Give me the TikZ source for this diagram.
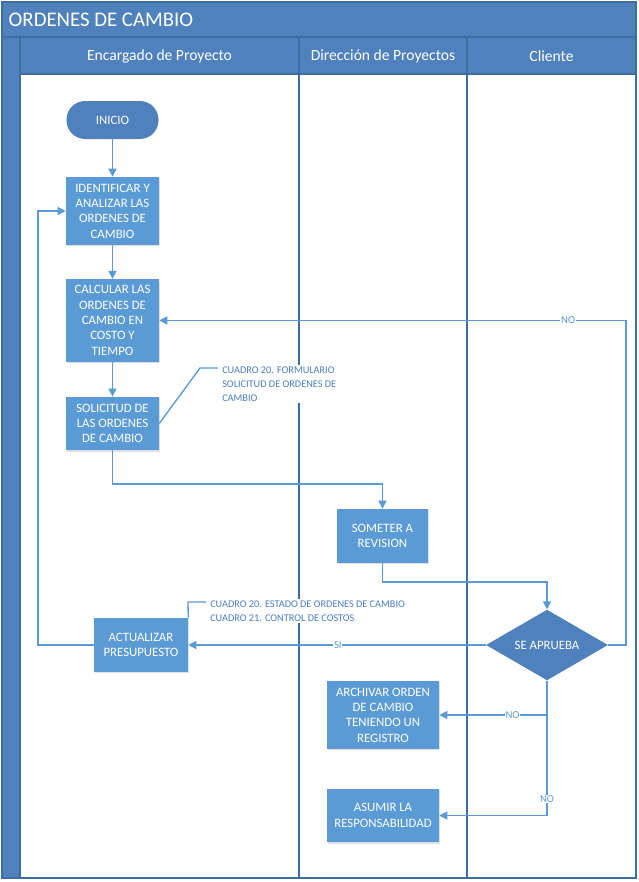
\documentclass[tikz,border=0pt]{standalone}
\usepackage{fontspec}
\setmainfont{Carlito}
\usetikzlibrary{arrows.meta,shapes.geometric,shadows}
\definecolor{hdr}{HTML}{4F81BD}
\definecolor{boxc}{HTML}{5B9BD5}
\definecolor{lanec}{HTML}{3C6E9F}
\definecolor{conn}{HTML}{5B9BD5}
\definecolor{anno}{HTML}{4A7FC0}
\begin{document}
\begin{tikzpicture}[x=0.75pt,y=-0.75pt,
  proc/.style={draw=none,fill=boxc,text=white,align=center,font=\fontsize{9.6}{11.5}\selectfont,inner sep=1pt,
     drop shadow={opacity=0.25,shadow xshift=1pt,shadow yshift=-1pt}},
  term/.style={fill=hdr,text=white,rounded corners=14pt,font=\fontsize{9.6}{11.5}\selectfont,minimum width=69pt,minimum height=28.5pt},
  decis/.style={diamond,fill=hdr,text=white,font=\fontsize{9.6}{11.5}\selectfont,minimum width=91.5pt,minimum height=53pt,inner sep=0pt,aspect=1.7},
  conn/.style={draw=conn,line width=1pt,-{Triangle[length=6pt,width=6pt]}},
  plain/.style={draw=conn,line width=1pt},
  lbl/.style={fill=white,text=conn,font=\fontsize{8}{9}\selectfont,inner sep=0.5pt},
  annot/.style={fill=white,text=anno,font=\fontsize{7.7}{10.5}\selectfont,align=left,inner sep=1.5pt},
  lanehd/.style={text=white,font=\fontsize{11.7}{13}\selectfont}]
\useasboundingbox (0,0) rectangle (639,882);
% frame
\fill[white] (2,2) rectangle (636,878);
\fill[hdr] (2,2) rectangle (636,37);
\fill[hdr] (2,37) rectangle (20,878);
\fill[hdr] (20,37) rectangle (636,74);
\draw[lanec,line width=0.8pt] (2,37) -- (636,37);
\draw[lanec,line width=0.8pt] (20,37) -- (20,878);
\draw[lanec,line width=0.8pt] (20,74) -- (636,74);
\draw[lanec,line width=1pt] (299,37) -- (299,878);
\draw[lanec,line width=1pt] (467,37) -- (467,878);
\draw[lanec,line width=0.8pt] (2,2) rectangle (636,878);
\node[text=white,anchor=west,font=\fontsize{15.6}{18}\selectfont] (title) at (4,20) {ORDENES DE CAMBIO};
\node[lanehd] (h1) at (159.5,56) {Encargado de Proyecto};
\node[lanehd] (h2) at (383,56) {Dirección de Proyectos};
\node[lanehd] (h3) at (551.5,56) {Cliente};
% nodes
\node[term] (ini) at (112.5,120) {INICIO};
\node[proc,minimum width=69.75pt,minimum height=51pt] (ident) at (112.5,211) {IDENTIFICAR Y\\ANALIZAR LAS\\ORDENES DE\\CAMBIO};
\node[proc,minimum width=69.75pt,minimum height=62pt] (calc) at (112.5,320.5) {CALCULAR LAS\\ORDENES DE\\CAMBIO EN\\COSTO Y\\TIEMPO};
\node[proc,minimum width=69.75pt,minimum height=40pt] (sol) at (112.5,423.5) {SOLICITUD DE\\LAS ORDENES\\DE CAMBIO};
\node[proc,minimum width=68pt,minimum height=40.5pt] (som) at (382.5,536) {SOMETER A\\REVISION};
\node[decis] (dia) at (547,645) {SE APRUEBA};
\node[proc,minimum width=70.5pt,minimum height=40.5pt] (act) at (141,645) {ACTUALIZAR\\PRESUPUESTO};
\node[proc,minimum width=84pt,minimum height=51pt] (arch) at (383,715) {ARCHIVAR ORDEN\\DE CAMBIO\\TENIENDO UN\\REGISTRO};
\node[proc,minimum width=84pt,minimum height=40pt] (asum) at (383,815.5) {ASUMIR LA\\RESPONSABILIDAD};
% annotations
\node[annot,anchor=west] (n1) at (220,384) {CUADRO 20. FORMULARIO\\SOLICITUD DE ORDENES DE\\CAMBIO};
\node[annot,anchor=west] (n2) at (208,611) {CUADRO 20. ESTADO DE ORDENES DE CAMBIO\\CUADRO 21. CONTROL DE COSTOS};
\coordinate (a1) at (200,368);
\coordinate (a1b) at (218,368);
\draw[plain] (sol.east) -- (a1) -- (a1b);
\coordinate (a2) at (188,602);
\coordinate (a2b) at (206,602);
\draw[plain] (act.north east) -- (a2) -- (a2b);
% connectors
\coordinate (b1) at (112.5,484);
\coordinate (b2) at (382.5,582);
\coordinate (rt) at (626,320.5);
\coordinate (lb) at (38,645);
\draw[conn] (ini) -- (ident);
\draw[conn] (ident) -- (calc);
\draw[conn] (calc) -- (sol);
\draw[conn] (sol.south) -- (b1) -| (som.north);
\draw[conn] (som.south) -- (b2) -| (dia.north);
\draw[conn] (dia.east) -| (rt) -- node[lbl,pos=0.124]{NO} (calc.east);
\draw[conn] (dia.west) -- node[lbl,pos=0.497]{SI} (act.east);
\draw[conn] (act.west) -- (lb) |- (ident.west);
\draw[conn] (dia.south) |- node[lbl,pos=0.66]{NO} (arch.east);
\draw[conn] (dia.south) |- node[lbl,pos=0.44]{NO} (asum.east);
\end{tikzpicture}
\end{document}
